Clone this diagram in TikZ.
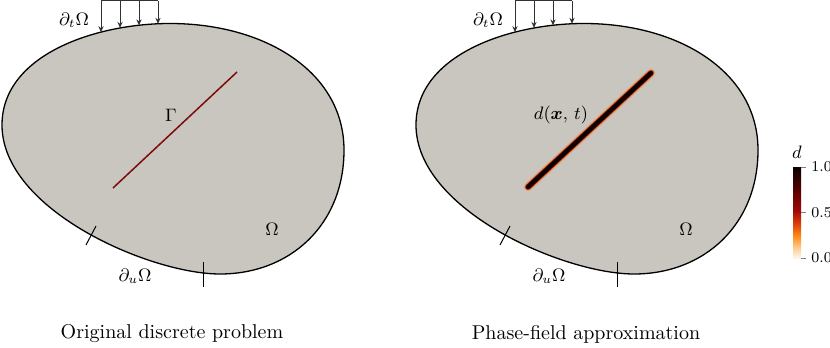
\documentclass[tikz,border=0pt]{standalone}
\usepackage{amsmath}
\usetikzlibrary{arrows.meta}
\definecolor{domfill}{RGB}{200,198,190}
\definecolor{crackred}{RGB}{125,10,10}
\definecolor{loadgray}{RGB}{50,50,50}
\definecolor{cb0}{RGB}{252,246,240}
\definecolor{cb1}{RGB}{255,200,140}
\definecolor{cb2}{RGB}{255,140,20}
\definecolor{cb3}{RGB}{220,60,10}
\definecolor{cb4}{RGB}{160,10,5}
\definecolor{cb5}{RGB}{90,0,0}
\definecolor{cb6}{RGB}{10,0,0}
\definecolor{halo}{RGB}{235,120,40}
\pgfdeclareverticalshading{dmap}{100bp}{color(0bp)=(cb0); color(25bp)=(cb0); color(31bp)=(cb1); color(37bp)=(cb2); color(44bp)=(cb3); color(51bp)=(cb4); color(62bp)=(cb5); color(75bp)=(cb6); color(100bp)=(cb6)}
\tikzset{
  domshape/.style={fill=domfill, draw=black, line width=0.65pt},
  loadline/.style={draw=loadgray, line width=0.5pt},
  loadarrow/.style={draw=loadgray, line width=0.5pt, -{Stealth[length=3pt,width=2.6pt]}},
  bctick/.style={draw=black, line width=0.5pt},
  lbl/.style={inner sep=0pt, font=\fontsize{8.7}{10}\selectfont},
  caption/.style={inner sep=0pt, font=\fontsize{10}{12}\selectfont},
  cblbl/.style={inner sep=0pt, anchor=west, font=\fontsize{7.5}{8}\selectfont},
  cbtick/.style={draw=gray, line width=0.5pt}
}
\begin{document}
\begin{tikzpicture}[x=0.5pt,y=-0.5pt]
\useasboundingbox (0,0) rectangle (830,348);
\foreach \dx/\nm in {0/L,414/R}{
  \begin{scope}[shift={(\dx,0)}]
    \path[domshape] (170,23.5) .. controls (265,23.5) and (344,72) .. (344,150)
      .. controls (344,225) and (290,274) .. (220,274)
      .. controls (150,274) and (2,210) .. (2,125)
      .. controls (2,55) and (95,23.5) .. cycle;
    % traction load
    \coordinate (t1\nm) at (101,0.5);
    \coordinate (t2\nm) at (120,0.5);
    \coordinate (t3\nm) at (139,0.5);
    \coordinate (t4\nm) at (158,0.5);
    \coordinate (b1\nm) at (101,32.2);
    \coordinate (b2\nm) at (120,27.9);
    \coordinate (b3\nm) at (139,25.4);
    \coordinate (b4\nm) at (158,23.8);
    \draw[loadline] (t1\nm) -- (t4\nm);
    \draw[loadarrow] (t1\nm) -- (b1\nm);
    \draw[loadarrow] (t2\nm) -- (b2\nm);
    \draw[loadarrow] (t3\nm) -- (b3\nm);
    \draw[loadarrow] (t4\nm) -- (b4\nm);
    % Dirichlet boundary ticks
    \coordinate (u1a\nm) at (86,245);
    \coordinate (u1b\nm) at (96,226);
    \coordinate (u2a\nm) at (203,262);
    \coordinate (u2b\nm) at (203,287);
    \draw[bctick] (u1a\nm) -- (u1b\nm);
    \draw[bctick] (u2a\nm) -- (u2b\nm);
    \node[lbl] (dt\nm) at (74,20) {$\partial_t\Omega$};
    \node[lbl] (du\nm) at (135,276) {$\partial_u\Omega$};
    \node[lbl] (om\nm) at (272,229) {$\Omega$};
  \end{scope}
}
% left: sharp crack
\coordinate (cLa) at (113,188);
\coordinate (cLb) at (237,72);
\draw[crackred, line width=0.75pt] (cLa) -- (cLb);
\node[lbl] (gam) at (171,115) {$\Gamma$};
% right: diffuse crack
\coordinate (cRa) at (528,187);
\coordinate (cRb) at (651,73);
\draw[line cap=round, line width=4.2pt, halo, opacity=0.35] (cRa) -- (cRb);
\draw[line cap=round, line width=3.4pt, halo, opacity=0.8] (cRa) -- (cRb);
\draw[line cap=round, line width=2.7pt, cb4] (cRa) -- (cRb);
\draw[line cap=round, line width=2.1pt, cb6] (cRa) -- (cRb);
\node[lbl] (dlab) at (561,115) {$d(\boldsymbol{x},\,t)$};
% colorbar
\shade[shading=dmap] (793,167) rectangle (801,258);
\node[lbl, font=\fontsize{9}{10}\selectfont] (cbd) at (797,152) {$d$};
\draw[cbtick] (801,167) -- (806,167);
\draw[cbtick] (801,212.5) -- (806,212.5);
\draw[cbtick] (801,258) -- (806,258);
\node[cblbl] (cb10) at (811,167) {1.0};
\node[cblbl] (cb05) at (811,212.5) {0.5};
\node[cblbl] (cb00) at (811,258) {0.0};
% captions
\node[caption] (capL) at (172,334) {Original discrete problem};
\node[caption] (capR) at (586,334) {Phase-field approximation};
\end{tikzpicture}
\end{document}
